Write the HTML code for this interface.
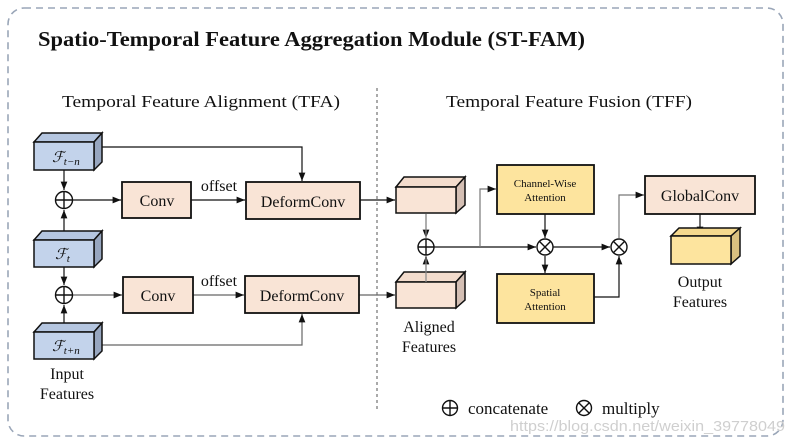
<!DOCTYPE html>
<html><head><meta charset="utf-8"><style>
html,body{margin:0;padding:0;background:#fff;}
svg{display:block;}
text{font-family:"Liberation Serif",serif;fill:#111;}
</style></head><body>
<svg width="791" height="444" viewBox="0 0 791 444" xmlns="http://www.w3.org/2000/svg">
<defs>
<marker id="a" viewBox="0 0 10 10" refX="10" refY="5" markerWidth="7" markerHeight="7" orient="auto"><path d="M0,1 L10,5 L0,9 z" fill="#111"/></marker>
</defs>
<rect x="8" y="8" width="775" height="428" rx="16" fill="none" stroke="#9aa6b8" stroke-width="1.6" stroke-dasharray="7,5"/>
<text x="38" y="46" font-size="21" font-weight="bold" textLength="547" lengthAdjust="spacingAndGlyphs">Spatio-Temporal Feature Aggregation Module (ST-FAM)</text>
<text x="62" y="107" font-size="17" textLength="278" lengthAdjust="spacingAndGlyphs">Temporal Feature Alignment (TFA)</text>
<text x="446" y="107" font-size="17" textLength="246" lengthAdjust="spacingAndGlyphs">Temporal Feature Fusion (TFF)</text>
<line x1="377" y1="88" x2="377" y2="410" stroke="#555" stroke-width="1" stroke-dasharray="3,3"/>

<g stroke="#111" stroke-width="1.2" fill="none">
<line x1="64" y1="170" x2="64" y2="190" marker-end="url(#a)"/>
<line x1="64" y1="232" x2="64" y2="210" marker-end="url(#a)"/>
<line x1="73" y1="200" x2="121" y2="200" marker-end="url(#a)"/>
<line x1="191" y1="200" x2="245" y2="200" marker-end="url(#a)"/>
<polyline points="102,147 302,147 302,181" marker-end="url(#a)"/>
<line x1="360" y1="200" x2="395" y2="200" marker-end="url(#a)"/>
<line x1="64" y1="267" x2="64" y2="285" marker-end="url(#a)"/>
<line x1="64" y1="323" x2="64" y2="305" marker-end="url(#a)"/>
<line x1="73" y1="295" x2="122" y2="295" marker-end="url(#a)" stroke="#666"/>
<line x1="193" y1="295" x2="244" y2="295" marker-end="url(#a)" stroke="#666"/>
<polyline points="102,345 302,345 302,314" marker-end="url(#a)" stroke="#666"/>
<line x1="359" y1="295" x2="395" y2="295" marker-end="url(#a)" stroke="#666"/>
<line x1="426" y1="214" x2="426" y2="238" marker-end="url(#a)" stroke="#888"/>
<line x1="426" y1="282" x2="426" y2="256" marker-end="url(#a)" stroke="#888"/>
<line x1="434" y1="247" x2="536" y2="247" marker-end="url(#a)"/>
<polyline points="480,247 480,189 496,189" marker-end="url(#a)" stroke="#777"/>
<line x1="545" y1="214" x2="545" y2="238" marker-end="url(#a)"/>
<line x1="545" y1="256" x2="545" y2="273" marker-end="url(#a)"/>
<line x1="553" y1="247" x2="610" y2="247" marker-end="url(#a)"/>
<polyline points="594,297 619,297 619,256" marker-end="url(#a)"/>
<polyline points="619,238 619,195 644,195" marker-end="url(#a)" stroke="#777"/>
<line x1="700" y1="214" x2="700" y2="235" marker-end="url(#a)"/>
</g>

<g stroke="#111" stroke-width="1.5">
<g>
<polygon points="34,142 42,133 102,133 94,142" fill="#b5c6e0"/>
<polygon points="94,142 102,133 102,162 94,170" fill="#97a6bf"/>
<rect x="34" y="142" width="60" height="28" fill="#c3d3eb"/>
</g>
<g>
<polygon points="34,240 42,231 102,231 94,240" fill="#b5c6e0"/>
<polygon points="94,240 102,231 102,259 94,267" fill="#97a6bf"/>
<rect x="34" y="240" width="60" height="27" fill="#c3d3eb"/>
</g>
<g>
<polygon points="34,332 42,323 102,323 94,332" fill="#b5c6e0"/>
<polygon points="94,332 102,323 102,351 94,359" fill="#97a6bf"/>
<rect x="34" y="332" width="60" height="27" fill="#c3d3eb"/>
</g>
</g>
<text x="52" y="162" font-size="15" font-style="italic">ℱ<tspan font-size="11" dy="3">t−n</tspan></text>
<text x="55" y="259" font-size="15" font-style="italic">ℱ<tspan font-size="11" dy="3">t</tspan></text>
<text x="52" y="351" font-size="15" font-style="italic">ℱ<tspan font-size="11" dy="3">t+n</tspan></text>

<g stroke="#111" stroke-width="1.4" fill="#fff">
<circle cx="64" cy="200" r="8.5"/><path d="M55.5,200h17M64,191.5v17"/>
<circle cx="64" cy="295" r="8.5"/><path d="M55.5,295h17M64,286.5v17"/>
<circle cx="426" cy="247" r="8"/><path d="M418,247h16M426,239v16"/>
<circle cx="545" cy="247" r="8"/><path d="M539.3,241.3l11.4,11.4M550.7,241.3l-11.4,11.4"/>
<circle cx="619" cy="247" r="8"/><path d="M613.3,241.3l11.4,11.4M624.7,241.3l-11.4,11.4"/>
</g>

<g stroke="#111" stroke-width="1.8" fill="#f9e4d6">
<rect x="122" y="182" width="69" height="36"/>
<rect x="246" y="182" width="114" height="37"/>
<rect x="123" y="277" width="70" height="36"/>
<rect x="245" y="276" width="114" height="37"/>
<rect x="645" y="176" width="110" height="38"/>
</g>
<g stroke="#111" stroke-width="1.8" fill="#fde49e">
<rect x="497" y="165" width="97" height="49"/>
<rect x="497" y="274" width="97" height="49"/>
</g>
<g font-size="16" text-anchor="middle">
<text x="157" y="206">Conv</text>
<text x="303" y="207">DeformConv</text>
<text x="158" y="301">Conv</text>
<text x="302" y="301">DeformConv</text>
<text x="700" y="201">GlobalConv</text>
<text x="219" y="191">offset</text>
<text x="219" y="286">offset</text>
</g>
<g font-size="11" text-anchor="middle">
<text x="545" y="187">Channel-Wise</text>
<text x="545" y="201">Attention</text>
<text x="545" y="296">Spatial</text>
<text x="545" y="310">Attention</text>
</g>

<g stroke="#111" stroke-width="1.5">
<polygon points="396,187 404,177 465,177 456,187" fill="#f3dccd"/>
<polygon points="456,187 465,177 465,205 456,213" fill="#d4bfb4"/>
<rect x="396" y="187" width="60" height="26" fill="#f9e4d6"/>
<polygon points="396,282 404,272 465,272 456,282" fill="#f3dccd"/>
<polygon points="456,282 465,272 465,300 456,308" fill="#d4bfb4"/>
<rect x="396" y="282" width="60" height="26" fill="#f9e4d6"/>
<polygon points="671,236 679,228 740,228 731,236" fill="#f5d98e"/>
<polygon points="731,236 740,228 740,256 731,264" fill="#d9c080"/>
<rect x="671" y="236" width="60" height="28" fill="#fde49e"/>
</g>
<line x1="426" y1="214" x2="426" y2="238" stroke="#888" stroke-width="1.2"/>
<line x1="426" y1="282" x2="426" y2="258" stroke="#888" stroke-width="1.2"/>

<g font-size="16" text-anchor="middle">
<text x="67" y="379">Input</text>
<text x="67" y="399">Features</text>
<text x="429" y="332">Aligned</text>
<text x="429" y="352">Features</text>
<text x="700" y="287">Output</text>
<text x="700" y="307">Features</text>
</g>

<g stroke="#111" stroke-width="1.4" fill="none">
<circle cx="450" cy="408" r="7.5"/><path d="M442.5,408h15M450,400.5v15"/>
<circle cx="584" cy="408" r="7.5"/><path d="M578.7,402.7l10.6,10.6M589.3,402.7l-10.6,10.6"/>
</g>
<text x="468" y="414" font-size="17">concatenate</text>
<text x="602" y="414" font-size="17">multiply</text>
<text x="510" y="431" font-size="15" textLength="275" lengthAdjust="spacingAndGlyphs" style="fill:#cfcfcf;font-family:'Liberation Sans',sans-serif">https://blog.csdn.net/weixin_39778049</text>
</svg>
</body></html>
